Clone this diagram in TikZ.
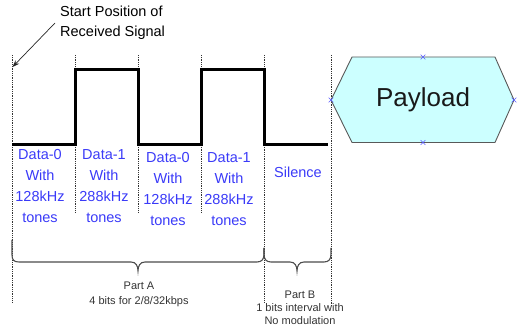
\documentclass[tikz,border=0pt]{standalone}
\usepackage{fontspec}
\setmainfont{Liberation Sans}
\usetikzlibrary{arrows.meta,shapes.misc}
\definecolor{labelblue}{HTML}{3A3AF8}
\definecolor{payfill}{HTML}{CCFFFF}
\definecolor{guide}{HTML}{333333}
\tikzset{
  signal/.style={line width=3pt, line join=miter, black},
  guideline/.style={dash pattern=on 0.9pt off 0.9pt, line width=0.8pt, guide},
  bracepath/.style={line width=1.1pt, black!70},
  bitlabel/.style={text=labelblue, align=center, inner sep=0pt,
    font=\fontsize{14.5}{21}\selectfont},
  note/.style={align=center, inner sep=0pt, text=black!80,
    font=\fontsize{11}{14.5}\selectfont},
  marker/.style={cross out, draw=blue!65, line width=0.6pt,
    minimum size=4pt, inner sep=0pt},
}
\begin{document}
\begin{tikzpicture}[x=1pt,y=-1pt]
\useasboundingbox (0,0) rectangle (517,328);

% dotted guide lines marking bit boundaries
\draw[guideline] (12,55) -- (12,302);
\draw[guideline] (75,55) -- (75,212);
\draw[guideline] (138,55) -- (138,212);
\draw[guideline] (201,55) -- (201,212);
\draw[guideline] (264,55) -- (264,302);
\draw[guideline] (331,55) -- (331,306);

% received signal waveform
\draw[signal] (12,145) -- (75,145) -- (75,70) -- (138,70) -- (138,145)
  -- (201,145) -- (201,70) -- (264,70) -- (264,145) -- (328,145);

% start position annotation
\node[anchor=west, align=left, inner sep=0pt,
  font=\fontsize{14.5}{20}\selectfont] (start) at (60,23)
  {Start Position of\\Received Signal};
\coordinate (arrowtail) at (55,23);
\coordinate (arrowhead) at (12.5,67);
\draw[-{Stealth[length=7pt,width=5pt]}, line width=0.7pt, black!85]
  (arrowtail) -- (arrowhead);

% bit labels
\node[bitlabel] (b1) at (40,186.5) {Data-0\\With\\128kHz\\tones};
\node[bitlabel] (b2) at (104,186.5) {Data-1\\With\\288kHz\\tones};
\node[bitlabel] (b3) at (168,189.5) {Data-0\\With\\128kHz\\tones};
\node[bitlabel] (b4) at (229,189.5) {Data-1\\With\\288kHz\\tones};
\node[bitlabel] (sil) at (298,172) {Silence};

% payload block
\draw[draw=black!65, line width=0.9pt, fill=payfill]
  (331,100) -- (352,57) -- (495,57) -- (514,100) -- (495,142.5) -- (352,142.5) -- cycle;
\node[font=\fontsize{26}{30}\selectfont, text=black!90] (paytext) at (423,100) {Payload};
\node[marker] (mtop) at (423,57) {};
\node[marker] (mbot) at (423,142.5) {};
\node[marker] (mleft) at (331,100) {};
\node[marker] (mright) at (514,100) {};

% braces
\draw[bracepath] (12,240) -- (12,255) .. controls (12,260) and (14,262) .. (19,262)
  -- (131,262) .. controls (136,262) and (138,266) .. (138,271)
  .. controls (138,266) and (140,262) .. (145,262)
  -- (257,262) .. controls (262,262) and (264,259) .. (264,254) -- (264,248);
\draw[bracepath] (264,248) -- (264,254) .. controls (264,259) and (266,262) .. (271,262)
  -- (290,262) .. controls (295,262) and (297,266) .. (297,271)
  .. controls (297,266) and (299,262) .. (304,262)
  -- (324,262) .. controls (329,262) and (331,259) .. (331,254) -- (331,248);

% brace captions
\node[note] (partA) at (139,294.5) {Part A\\4 bits for 2/8/32kbps};
\node[note, font=\fontsize{11}{13}\selectfont] (partB) at (300,308)
  {Part B\\1 bits interval with\\No modulation};
\end{tikzpicture}
\end{document}
